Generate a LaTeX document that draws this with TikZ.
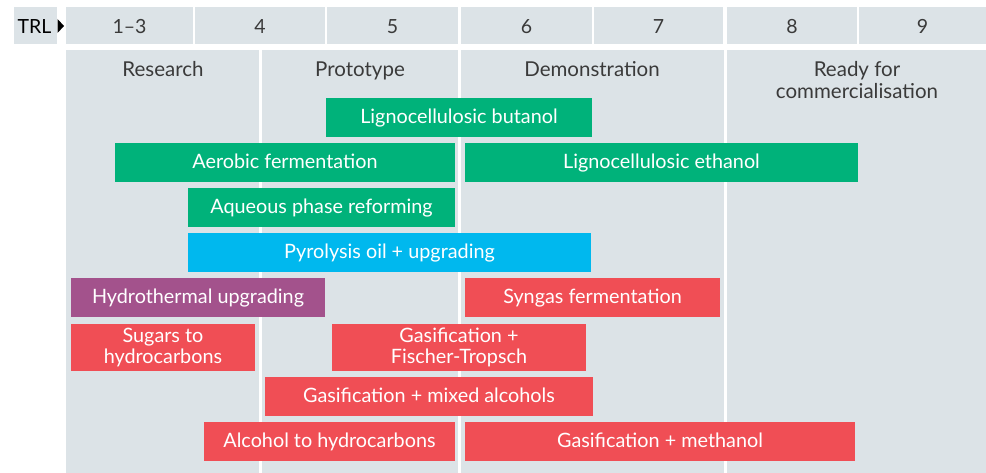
\documentclass[tikz,border=0pt]{standalone}
\usepackage{fontspec}
\setmainfont{Lato}
\definecolor{bgc}{HTML}{DCE3E7}
\definecolor{txt}{HTML}{3A3A3A}
\definecolor{grn}{HTML}{00B27A}
\definecolor{blu}{HTML}{00B8EE}
\definecolor{pur}{HTML}{A3528C}
\definecolor{rd}{HTML}{F04E55}
\tikzset{
  hcell/.style={fill=bgc, draw=none},
  hlabel/.style={text=txt, font=\fontsize{19.5}{22}\selectfont, inner sep=0pt, anchor=base},
  plabelbase/.style={text=txt, font=\fontsize{20.5}{22}\selectfont, align=center, inner sep=0pt},
  plabel/.style={plabelbase, text height=12.5pt, text depth=2.1pt},
  barbase/.style={fill=#1, draw=none, text=white, font=\fontsize{19.8}{20.5}\selectfont, align=center, inner sep=0pt},
  barbox/.style={barbase=#1, text height=13.5pt, text depth=2.1pt},
  sep/.style={draw=white, line width=3pt}
}
\newcommand{\mybar}[7]{%
  \node[barbox=#6, minimum width={(#4-#2)*1pt}, minimum height={(#5-#3)*1pt}] (#1) at ({(#2+#4)/2},{(#3+#5)/2}) {#7};}
\newcommand{\mybartwo}[7]{%
  \node[barbase=#6, minimum width={(#4-#2)*1pt}, minimum height={(#5-#3)*1pt}] (#1) at ({(#2+#4)/2},{(#3+#5)/2}) {#7};}
\begin{document}
\begin{tikzpicture}[x=1pt,y=-1pt]
\useasboundingbox (0,0) rectangle (986,473);
% header
\fill[hcell] (14,7) rectangle (57,44);
\node[hlabel, text=black] (trl) at (34.5,33.5) {TRL};
\fill[black] (57.5,19) -- (64,26) -- (57.5,33) -- cycle;
\fill[hcell] (66,7) rectangle (193,44);
\fill[hcell] (195,7) rectangle (325,44);
\fill[hcell] (327,7) rectangle (458,44);
\fill[hcell] (461,7) rectangle (592,44);
\fill[hcell] (594,7) rectangle (723,44);
\fill[hcell] (727,7) rectangle (857,44);
\fill[hcell] (859,7) rectangle (986,44);
\node[hlabel] (t13) at (129.5,34) {1–3};
\node[hlabel] (t4) at (260,34) {4};
\node[hlabel] (t5) at (392.5,34) {5};
\node[hlabel] (t6) at (526.5,34) {6};
\node[hlabel] (t7) at (658.5,34) {7};
\node[hlabel] (t8) at (792,34) {8};
\node[hlabel] (t9) at (922.5,34) {9};
% body
\fill[hcell] (66,50) rectangle (986,473);
\draw[sep] (260.5,48) -- (260.5,473);
\draw[sep] (459.5,48) -- (459.5,473);
\draw[sep] (725,48) -- (725,473);
\node[plabel] (p1) at (163,71.5) {Research};
\node[plabel] (p2) at (360,71.5) {Prototype};
\node[plabel] (p3) at (592,71.5) {Demonstration};
\node[plabelbase] (p4) at (857,80) {Ready for\\commercialisation};
% bars
\mybar{b1}{326}{98}{592}{137}{grn}{Lignocellulosic butanol}
\mybar{b2}{115}{143}{455}{182}{grn}{Aerobic fermentation}
\mybar{b3}{465}{143}{858}{182}{grn}{Lignocellulosic ethanol}
\mybar{b4}{188}{188}{455}{227}{grn}{Aqueous phase reforming}
\mybar{b5}{188}{233}{591}{272}{blu}{Pyrolysis oil + upgrading}
\mybar{b6}{71}{278}{325}{317}{pur}{Hydrothermal upgrading}
\mybar{b7}{465}{278}{720}{317}{rd}{Syngas fermentation}
\mybartwo{b8}{71}{324}{255}{371}{rd}{Sugars to\\hydrocarbons}
\mybartwo{b9}{332}{324}{586}{371}{rd}{Gasification +\\Fischer-Tropsch}
\mybar{b10}{265}{377}{593}{416}{rd}{Gasification + mixed alcohols}
\mybar{b11}{204}{422}{455}{461}{rd}{Alcohol to hydrocarbons}
\mybar{b12}{465}{422}{855}{461}{rd}{Gasification + methanol}
\end{tikzpicture}
\end{document}
